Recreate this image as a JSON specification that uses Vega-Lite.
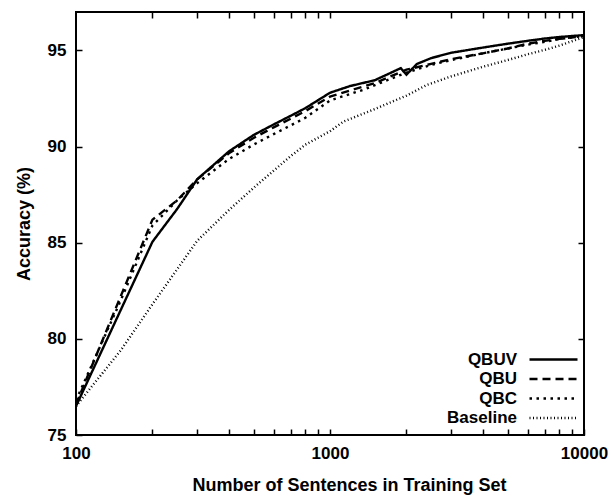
{
  "$schema": "https://vega.github.io/schema/vega-lite/v6.json",
  "width": 508,
  "height": 423,
  "autosize": {"type": "none"},
  "padding": {"left": 76, "top": 12, "right": 27, "bottom": 62},
  "background": "white",
  "config": {
    "view": {"stroke": "black", "strokeWidth": 2},
    "font": "Liberation Sans",
    "axis": {
      "domain": false,
      "grid": false,
      "tickColor": "black",
      "tickWidth": 1.5,
      "tickSize": 6,
      "offset": -6,
      "labelFont": "Liberation Sans",
      "labelFontWeight": "bold",
      "labelFontSize": 17,
      "labelColor": "black",
      "titleFont": "Liberation Sans",
      "titleFontWeight": "bold",
      "titleFontSize": 18,
      "titleColor": "black"
    },
    "legend": {
      "labelFont": "Liberation Sans",
      "labelFontWeight": "bold",
      "labelFontSize": 17,
      "labelColor": "black"
    }
  },
  "data": {
    "values": [
      {"n": 100, "acc": 76.5, "method": "QBUV"},
      {"n": 200, "acc": 85.05, "method": "QBUV"},
      {"n": 250, "acc": 86.75, "method": "QBUV"},
      {"n": 300, "acc": 88.3, "method": "QBUV"},
      {"n": 400, "acc": 89.75, "method": "QBUV"},
      {"n": 500, "acc": 90.6, "method": "QBUV"},
      {"n": 600, "acc": 91.15, "method": "QBUV"},
      {"n": 700, "acc": 91.6, "method": "QBUV"},
      {"n": 800, "acc": 92.0, "method": "QBUV"},
      {"n": 1000, "acc": 92.8, "method": "QBUV"},
      {"n": 1200, "acc": 93.15, "method": "QBUV"},
      {"n": 1500, "acc": 93.45, "method": "QBUV"},
      {"n": 1900, "acc": 94.08, "method": "QBUV"},
      {"n": 2000, "acc": 93.74, "method": "QBUV"},
      {"n": 2200, "acc": 94.3, "method": "QBUV"},
      {"n": 2500, "acc": 94.6, "method": "QBUV"},
      {"n": 3000, "acc": 94.88, "method": "QBUV"},
      {"n": 4000, "acc": 95.15, "method": "QBUV"},
      {"n": 5000, "acc": 95.35, "method": "QBUV"},
      {"n": 6000, "acc": 95.5, "method": "QBUV"},
      {"n": 7000, "acc": 95.62, "method": "QBUV"},
      {"n": 8000, "acc": 95.7, "method": "QBUV"},
      {"n": 10000, "acc": 95.8, "method": "QBUV"},

      {"n": 100, "acc": 76.6, "method": "QBU"},
      {"n": 200, "acc": 86.2, "method": "QBU"},
      {"n": 250, "acc": 87.2, "method": "QBU"},
      {"n": 300, "acc": 88.3, "method": "QBU"},
      {"n": 400, "acc": 89.65, "method": "QBU"},
      {"n": 500, "acc": 90.45, "method": "QBU"},
      {"n": 600, "acc": 91.0, "method": "QBU"},
      {"n": 700, "acc": 91.45, "method": "QBU"},
      {"n": 800, "acc": 91.85, "method": "QBU"},
      {"n": 1000, "acc": 92.6, "method": "QBU"},
      {"n": 1500, "acc": 93.3, "method": "QBU"},
      {"n": 2000, "acc": 94.0, "method": "QBU"},
      {"n": 2500, "acc": 94.3, "method": "QBU"},
      {"n": 3000, "acc": 94.55, "method": "QBU"},
      {"n": 4000, "acc": 94.85, "method": "QBU"},
      {"n": 5000, "acc": 95.1, "method": "QBU"},
      {"n": 6000, "acc": 95.35, "method": "QBU"},
      {"n": 7000, "acc": 95.5, "method": "QBU"},
      {"n": 8000, "acc": 95.6, "method": "QBU"},
      {"n": 10000, "acc": 95.75, "method": "QBU"},

      {"n": 100, "acc": 76.8, "method": "QBC"},
      {"n": 150, "acc": 82.0, "method": "QBC"},
      {"n": 200, "acc": 85.9, "method": "QBC"},
      {"n": 250, "acc": 87.2, "method": "QBC"},
      {"n": 300, "acc": 88.1, "method": "QBC"},
      {"n": 400, "acc": 89.35, "method": "QBC"},
      {"n": 500, "acc": 90.1, "method": "QBC"},
      {"n": 600, "acc": 90.65, "method": "QBC"},
      {"n": 700, "acc": 91.1, "method": "QBC"},
      {"n": 800, "acc": 91.5, "method": "QBC"},
      {"n": 1000, "acc": 92.4, "method": "QBC"},
      {"n": 1350, "acc": 92.95, "method": "QBC"},
      {"n": 2000, "acc": 93.85, "method": "QBC"},
      {"n": 2500, "acc": 94.25, "method": "QBC"},
      {"n": 3000, "acc": 94.5, "method": "QBC"},
      {"n": 4000, "acc": 94.85, "method": "QBC"},
      {"n": 5000, "acc": 95.1, "method": "QBC"},
      {"n": 6000, "acc": 95.3, "method": "QBC"},
      {"n": 7000, "acc": 95.45, "method": "QBC"},
      {"n": 8000, "acc": 95.6, "method": "QBC"},
      {"n": 10000, "acc": 95.75, "method": "QBC"},

      {"n": 100, "acc": 76.5, "method": "Baseline"},
      {"n": 150, "acc": 79.4, "method": "Baseline"},
      {"n": 200, "acc": 81.8, "method": "Baseline"},
      {"n": 300, "acc": 85.1, "method": "Baseline"},
      {"n": 400, "acc": 86.7, "method": "Baseline"},
      {"n": 500, "acc": 87.85, "method": "Baseline"},
      {"n": 600, "acc": 88.75, "method": "Baseline"},
      {"n": 700, "acc": 89.5, "method": "Baseline"},
      {"n": 800, "acc": 90.1, "method": "Baseline"},
      {"n": 1000, "acc": 90.8, "method": "Baseline"},
      {"n": 1130, "acc": 91.3, "method": "Baseline"},
      {"n": 1500, "acc": 91.95, "method": "Baseline"},
      {"n": 2000, "acc": 92.65, "method": "Baseline"},
      {"n": 2400, "acc": 93.2, "method": "Baseline"},
      {"n": 3000, "acc": 93.65, "method": "Baseline"},
      {"n": 4000, "acc": 94.15, "method": "Baseline"},
      {"n": 5000, "acc": 94.5, "method": "Baseline"},
      {"n": 6000, "acc": 94.8, "method": "Baseline"},
      {"n": 7000, "acc": 95.03, "method": "Baseline"},
      {"n": 8000, "acc": 95.25, "method": "Baseline"},
      {"n": 10000, "acc": 95.7, "method": "Baseline"}
    ]
  },
  "layer": [
    {
      "mark": {"type": "line", "color": "black", "clip": true},
      "encoding": {
        "x": {
          "field": "n", "type": "quantitative",
          "scale": {"type": "log", "domain": [100, 10000], "nice": false},
          "axis": {
            "orient": "bottom",
            "title": "Number of Sentences in Training Set",
            "titleX": 273,
            "values": [100, 200, 300, 400, 500, 600, 700, 800, 900, 1000, 2000, 3000, 4000, 5000, 6000, 7000, 8000, 9000, 10000],
            "labelExpr": "(datum.value == 100 || datum.value == 1000 || datum.value == 10000) ? format(datum.value, 'd') : ''",
            "labelOverlap": false,
            "labelFlush": false,
            "labelPadding": 10,
            "titlePadding": 15
          }
        },
        "y": {
          "field": "acc", "type": "quantitative",
          "scale": {"domain": [75, 97], "nice": false, "zero": false},
          "axis": {
            "orient": "left",
            "title": "Accuracy (%)",
            "values": [75, 80, 85, 90, 95],
            "labelPadding": 10,
            "titlePadding": 14
          }
        },
        "strokeDash": {
          "field": "method", "type": "nominal",
          "scale": {"domain": ["QBUV", "QBU", "QBC", "Baseline"], "range": [[1, 0], [8, 5], [2.5, 4.5], [1, 2.5]]},
          "legend": {
            "title": null,
            "orient": "none",
            "legendX": 468,
            "legendY": 338,
            "padding": 0,
            "symbolType": "M-3,0L3,0",
            "symbolSize": 256,
            "symbolStrokeColor": "black",
            "labelAlign": "right",
            "labelOffset": -46,
            "rowPadding": 1.5
          }
        },
        "strokeWidth": {
          "field": "method", "type": "nominal",
          "scale": {"domain": ["QBUV", "QBU", "QBC", "Baseline"], "range": [2.4, 2.4, 2.4, 1.2]},
          "legend": null
        }
      }
    },
    {
      "mark": {"type": "point", "opacity": 0},
      "encoding": {
        "x": {
          "field": "n", "type": "quantitative",
          "axis": {
            "orient": "top",
            "title": null,
            "labels": false,
            "values": [200, 300, 400, 500, 600, 700, 800, 900, 1000, 2000, 3000, 4000, 5000, 6000, 7000, 8000, 9000]
          }
        },
        "y": {
          "field": "acc", "type": "quantitative",
          "axis": {
            "orient": "right",
            "title": null,
            "labels": false,
            "values": [80, 85, 90, 95]
          }
        }
      }
    }
  ],
  "resolve": {"axis": {"x": "independent", "y": "independent"}}
}
